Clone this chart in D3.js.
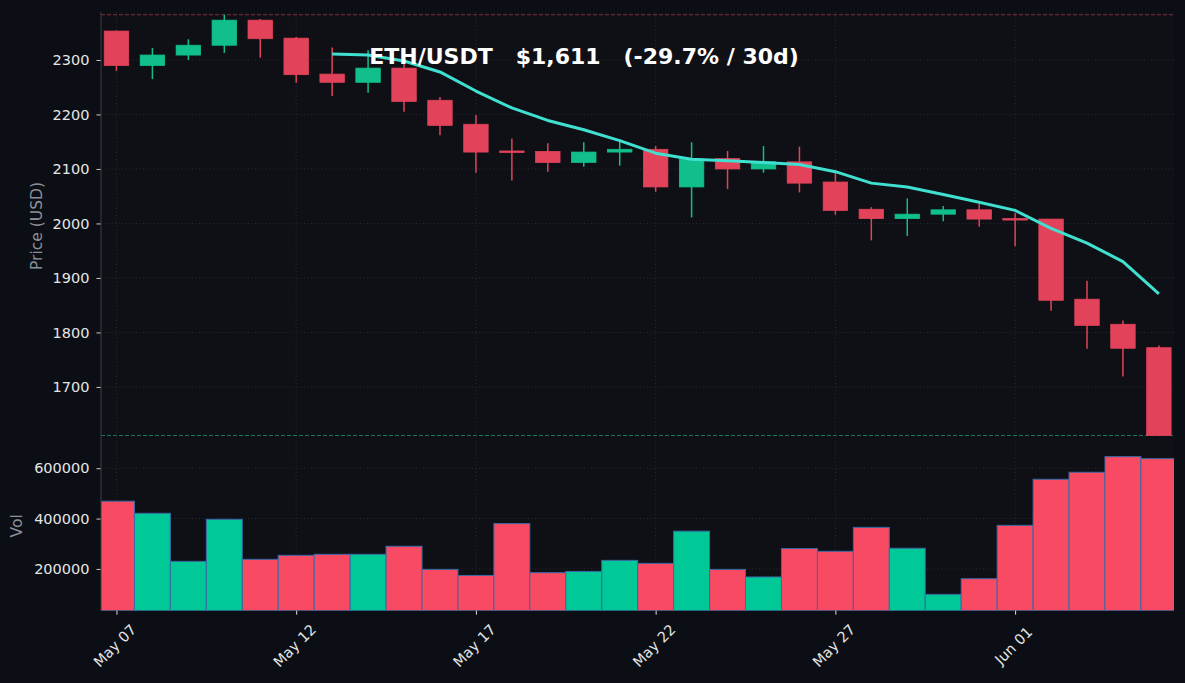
<!DOCTYPE html>
<html>
<head>
<meta charset="utf-8">
<script src="https://cdn.jsdelivr.net/npm/d3@7"></script>
<style>
  html, body { margin: 0; padding: 0; background: #0b0e14; }
  svg { display: block; }
  text { font-family: "DejaVu Sans", sans-serif; }
</style>
</head>
<body>
<svg id="chart" width="1185" height="683"></svg>
<script>
// ---- Data ----
const dates = ["2024-05-07","2024-05-08","2024-05-09","2024-05-10","2024-05-11","2024-05-12","2024-05-13","2024-05-14","2024-05-15","2024-05-16",
               "2024-05-17","2024-05-18","2024-05-19","2024-05-20","2024-05-21","2024-05-22","2024-05-23","2024-05-24","2024-05-25","2024-05-26",
               "2024-05-27","2024-05-28","2024-05-29","2024-05-30","2024-05-31","2024-06-01","2024-06-02","2024-06-03","2024-06-04","2024-06-05"];
const opens  = [2353, 2290, 2309, 2327, 2373, 2340, 2274, 2259, 2285, 2226, 2182, 2133, 2132, 2112, 2131, 2136, 2067, 2119, 2100, 2113, 2076, 2026, 2009, 2017, 2025, 2009, 2008, 1861, 1815, 1772];
const highs  = [2354, 2322, 2338, 2383, 2375, 2342, 2323, 2318, 2298, 2232, 2199, 2156, 2147, 2149, 2155, 2142, 2149, 2133, 2142, 2141, 2098, 2030, 2046, 2032, 2036, 2019, 2008, 1895, 1822, 1776];
const lows   = [2280, 2265, 2300, 2313, 2304, 2258, 2234, 2240, 2205, 2162, 2093, 2079, 2095, 2104, 2106, 2058, 2011, 2063, 2093, 2057, 2016, 1969, 1977, 2004, 1994, 1958, 1840, 1770, 1719, 1608];
const closes = [2290, 2309, 2327, 2373, 2339, 2273, 2259, 2285, 2224, 2180, 2131, 2132, 2112, 2131, 2136, 2067, 2118, 2100, 2113, 2074, 2024, 2009, 2017, 2025, 2008, 2008, 1859, 1813, 1771, 1611];
const volumes = [469000, 421000, 230000, 397000, 238000, 254000, 258000, 258000, 290000, 198000, 174000, 380000, 185000, 190000, 234000, 222000, 350000, 198000, 168000, 281000,
                 270000, 365000, 282000, 99000, 161000, 373000, 556000, 584000, 646000, 638000];
const ma7 = [null, null, null, null, null, null, 2311, 2309, 2298, 2278, 2243, 2212, 2189, 2172, 2152, 2129, 2118, 2115, 2112, 2108,
             2095, 2074, 2067, 2053, 2039, 2024, 1991, 1964, 1930, 1871];
const xTickDates = ["2024-05-07","2024-05-12","2024-05-17","2024-05-22","2024-05-27","2024-06-01"];
const priceTicks = [1700, 1800, 1900, 2000, 2100, 2200, 2300];
const volTicks = [200000, 400000, 600000];
const titleText = "ETH/USDT   $1,611   (-29.7% / 30d)";

// ---- Styles ----
const C = {
  panel: "#0f1015", grid: "#2e323b", red: "#e2435a", green: "#10bf8c",
  vred: "#f94a63", vgreen: "#00c896", vedge: "#3a6aa6", ma: "#40e0d0",
  tick: "#e6e6e6", label: "#8b909a", spine: "#3a3e48"
};
const L = { left: 101, right: 1174, pTop: 12, pBot: 436, vTop: 437, vBot: 610.7 };

const parse = d3.utcParse("%Y-%m-%d");
const data = dates.map((d, i) => ({ date: parse(d), o: opens[i], h: highs[i], l: lows[i], c: closes[i], v: volumes[i], ma: ma7[i] }));
const DAY = 864e5;
const d0 = data[0].date.getTime(), d1 = data[data.length - 1].date.getTime();

const x = d3.scaleUtc().domain([new Date(d0 - 0.43 * DAY), new Date(d1 + 0.42 * DAY)]).range([L.left, L.right]);
const yP = d3.scaleLinear().domain([1610, 2388]).range([L.pBot, L.pTop]);
const yV = d3.scaleLinear().domain([34000, 724000]).range([L.vBot, L.vTop]);
const dayW = x(new Date(d0 + DAY)) - x(new Date(d0));

const svg = d3.select("#chart");
svg.append("rect").attr("width", 1185).attr("height", 683).attr("fill", "#0b0e14");

const defs = svg.append("defs");
defs.append("clipPath").attr("id", "clipP").append("rect")
  .attr("x", L.left).attr("y", L.pTop).attr("width", L.right - L.left).attr("height", L.pBot - L.pTop);
defs.append("clipPath").attr("id", "clipV").append("rect")
  .attr("x", L.left).attr("y", L.vTop).attr("width", L.right - L.left).attr("height", L.vBot - L.vTop);

// panels
svg.append("rect").attr("x", L.left).attr("y", L.pTop).attr("width", L.right - L.left).attr("height", L.pBot - L.pTop).attr("fill", C.panel);
svg.append("rect").attr("x", L.left).attr("y", L.vTop - 1).attr("width", L.right - L.left).attr("height", L.vBot - L.vTop + 1).attr("fill", C.panel);

const xTicks = xTickDates.map(parse);
// vertical grid
[[L.pTop, L.pBot], [L.vTop, L.vBot]].forEach(([t, b]) => {
  svg.append("g").selectAll("line").data(xTicks).join("line")
    .attr("x1", d => x(d)).attr("x2", d => x(d)).attr("y1", t).attr("y2", b)
    .attr("stroke", C.grid).attr("stroke-width", 0.8).attr("stroke-dasharray", "1,2.5");
});
// horizontal grid
svg.append("g").selectAll("line").data(priceTicks).join("line")
  .attr("x1", L.left).attr("x2", L.right).attr("y1", d => yP(d)).attr("y2", d => yP(d))
  .attr("stroke", C.grid).attr("stroke-width", 0.8).attr("stroke-dasharray", "1,2.5");
svg.append("g").selectAll("line").data(volTicks).join("line")
  .attr("x1", L.left).attr("x2", L.right).attr("y1", d => yV(d)).attr("y2", d => yV(d))
  .attr("stroke", C.grid).attr("stroke-width", 0.8).attr("stroke-dasharray", "1,2.5");

// reference dashed lines
const maxHigh = d3.max(highs);
const lastClose = closes[closes.length - 1];
svg.append("line").attr("x1", L.left).attr("x2", L.right).attr("y1", yP(maxHigh)).attr("y2", yP(maxHigh))
  .attr("stroke", C.red).attr("stroke-opacity", 0.55).attr("stroke-width", 1).attr("stroke-dasharray", "4,2");
svg.append("line").attr("x1", L.left).attr("x2", L.right).attr("y1", yP(lastClose)).attr("y2", yP(lastClose))
  .attr("stroke", "#1f8a6a").attr("stroke-opacity", 0.85).attr("stroke-width", 1).attr("stroke-dasharray", "4,2");

// candles
const gC = svg.append("g").attr("clip-path", "url(#clipP)");
const bw = dayW * 0.68;
const col = d => d.c >= d.o ? C.green : C.red;
gC.selectAll("line.wick").data(data).join("line").attr("class", "wick")
  .attr("x1", d => x(d.date)).attr("x2", d => x(d.date))
  .attr("y1", d => yP(d.h)).attr("y2", d => yP(d.l))
  .attr("stroke", col).attr("stroke-width", 1.5);
gC.selectAll("rect.body").data(data).join("rect").attr("class", "body")
  .attr("x", d => x(d.date) - bw / 2).attr("width", bw)
  .attr("y", d => yP(Math.max(d.o, d.c)))
  .attr("height", d => Math.max(1.5, Math.abs(yP(d.o) - yP(d.c))))
  .attr("fill", col).attr("stroke", col).attr("stroke-width", 0.8);

// MA line
const line = d3.line().defined(d => d.ma != null).x(d => x(d.date)).y(d => yP(d.ma)).curve(d3.curveLinear);
gC.append("path").datum(data).attr("d", line).attr("fill", "none")
  .attr("stroke", C.ma).attr("stroke-width", 3).attr("stroke-linejoin", "round");

// volume bars
const gV = svg.append("g").attr("clip-path", "url(#clipV)");
gV.selectAll("rect").data(data).join("rect")
  .attr("x", d => x(d.date) - dayW / 2).attr("width", dayW)
  .attr("y", d => yV(d.v)).attr("height", d => L.vBot - yV(d.v))
  .attr("fill", d => d.c >= d.o ? C.vgreen : C.vred)
  .attr("stroke", C.vedge).attr("stroke-width", 1);

// spine
svg.append("line").attr("x1", L.left).attr("x2", L.left).attr("y1", L.pTop).attr("y2", L.vBot)
  .attr("stroke", C.spine).attr("stroke-width", 1);

// y axes (price)
const yAxisP = d3.axisLeft(yP).tickValues(priceTicks).tickSize(4).tickPadding(7).tickFormat(d3.format("d"));
const gYP = svg.append("g").attr("transform", `translate(${L.left - 0.5},0)`).call(yAxisP);
const yAxisV = d3.axisLeft(yV).tickValues(volTicks).tickSize(4).tickPadding(7).tickFormat(d3.format("d"));
const gYV = svg.append("g").attr("transform", `translate(${L.left - 0.5},0)`).call(yAxisV);
[gYP, gYV].forEach(g => {
  g.select(".domain").remove();
  g.selectAll(".tick line").attr("stroke", "#cfcfcf");
  g.selectAll(".tick text").attr("fill", C.tick).style("font-size", "14.5px").style("font-family", "DejaVu Sans");
});

// x axis
const gX = svg.append("g").attr("transform", `translate(0,${L.vBot})`)
  .call(d3.axisBottom(x).tickValues(xTicks).tickSize(4).tickFormat(d3.utcFormat("%b %d")));
gX.select(".domain").remove();
gX.selectAll(".tick line").attr("stroke", "#e0e0e0").attr("stroke-width", 1);
gX.selectAll(".tick text")
  .attr("fill", C.tick).style("font-size", "14.5px").style("font-family", "DejaVu Sans")
  .attr("text-anchor", "middle").attr("dominant-baseline", "central")
  .attr("y", 0).attr("dy", null)
  .attr("transform", "translate(-2,35) rotate(-45)");

// axis labels
svg.append("text").attr("transform", `translate(37,${(L.pTop + L.pBot) / 2 + 2}) rotate(-90)`)
  .attr("text-anchor", "middle").attr("dominant-baseline", "central")
  .attr("fill", C.label).style("font-size", "15.5px").text("Price (USD)");
svg.append("text").attr("transform", `translate(17,${(L.vTop + L.vBot) / 2 + 2}) rotate(-90)`)
  .attr("text-anchor", "middle").attr("dominant-baseline", "central")
  .attr("fill", C.label).style("font-size", "15.5px").text("Vol");

// title
svg.append("text").attr("x", L.left + 0.25 * (L.right - L.left)).attr("y", 63.5)
  .attr("fill", "#ffffff").style("font-size", "22px").style("font-weight", "bold")
  .style("white-space", "pre").attr("xml:space", "preserve").text(titleText);
</script>
</body>
</html>
